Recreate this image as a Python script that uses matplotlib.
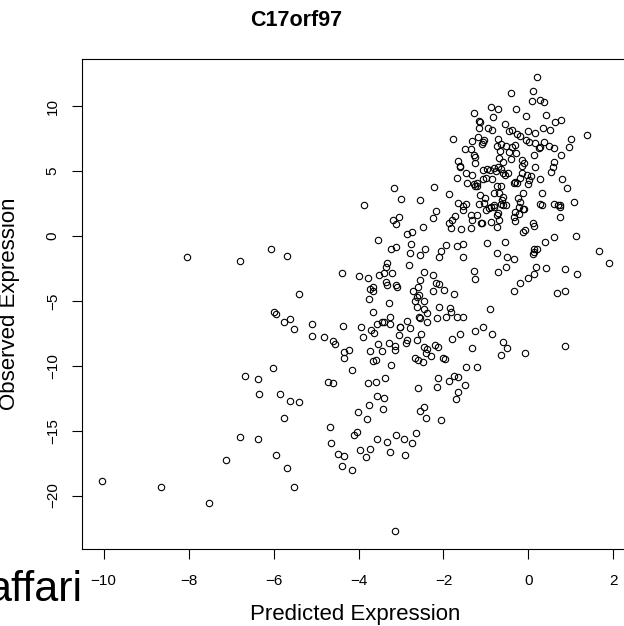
import numpy as np
import matplotlib
matplotlib.use('Agg')
import matplotlib.pyplot as plt

# predicted vs observed expression
# sparse lower-left part of the cloud
pred_sparse = [
    -8.04, -6.78, -6.68, -6.37, -6.34, -6.78, -6.37, -7.11, -10.03, -8.65,
    -7.51, -6.06, -5.68, -5.41, -4.38, -3.98, -3.78, -3.55, -3.23, -3.11,
    -2.85, -2.75, -2.76, -2.78, -2.81, -2.55, -3.52, -3.39, -3.34, -3.36,
    -3.21, -3.35, -3.32, -3.11, -3.09, -3.74, -3.65, -3.65, -3.76, -3.28,
    -3.65, -2.72, -2.67, -2.63, -2.63, -2.61, -5.98, -5.94, -5.62, -5.76,
    -5.51, -5.09, -5.09, -4.81, -4.60, -4.56, -4.36, -3.94, -3.89, -3.71,
    -3.63, -3.44, -3.40, -3.25, -3.25, -3.57, -3.03, -3.05, -2.87, -2.79,
    -2.85, -2.88, -2.62, -3.55, -3.29, -3.14, -3.14, -3.44, -3.72, -3.67,
    -3.58, -3.24, -4.34, -4.23, -4.34, -4.15, -2.67, -2.61, -6.01, -5.84,
    -5.62, -5.40, -5.76, -4.71, -4.60, -3.77, -3.58, -3.38, -3.56, -3.41,
    -3.75, -3.42, -4.01, -3.80, -2.61, -2.56, -4.67, -4.11, -4.03, -4.65,
    -4.49, -4.34, -4.40, -4.15, -3.96, -3.74, -3.82, -3.56, -3.34, -3.26,
    -3.11, -2.94, -2.74, -2.90, -2.65, -5.94, -5.68, -5.52, -3.14,
]
obs_sparse = [
    -1.65, -1.92, -10.81, -11.04, -12.18, -15.48, -15.62, -17.23, -18.85, -19.31,
    -20.56, -1.02, -1.52, -4.44, -2.87, -3.08, -3.28, -0.31, -1.02, -0.87,
    0.15, 0.33, -0.62, -1.28, -2.25, -1.46, -3.02, -2.87, -2.10, -2.41,
    -2.87, -3.52, -3.77, -3.75, -3.90, -4.10, -3.95, -4.21, -4.87, -5.13,
    -5.85, -4.28, -4.98, -4.67, -5.48, -3.90, -5.85, -6.00, -6.41, -6.62,
    -7.15, -6.82, -7.72, -7.79, -8.10, -8.33, -6.92, -7.05, -7.75, -7.23,
    -7.48, -6.64, -6.64, -6.25, -6.75, -6.82, -7.05, -7.64, -6.54, -7.13,
    -8.05, -8.25, -8.02, -8.31, -8.25, -8.46, -8.82, -8.85, -8.85, -9.64,
    -9.59, -9.95, -8.95, -8.82, -9.44, -10.31, -9.41, -9.59, -10.18, -12.18,
    -12.75, -12.77, -14.00, -11.25, -11.36, -11.33, -11.23, -10.95, -12.31, -12.52,
    -13.02, -13.31, -13.54, -14.13, -11.75, -13.48, -14.69, -15.31, -15.10, -15.95,
    -16.77, -16.92, -17.72, -18.02, -16.52, -16.38, -17.05, -15.64, -15.87, -16.67,
    -15.36, -15.67, -15.92, -16.90, -15.18, -16.87, -17.87, -19.31, -22.72,
]

# middle band
pred_mid = [
    -2.58, -2.47, -2.24, -1.98, -1.76, -0.34, 0.68, 0.86, -2.45, -2.39,
    -2.57, -2.55, -2.39, -2.16, -2.10, -1.94, -1.84, -1.82, -1.68, -1.54,
    -0.91, -3.02, -2.52, -1.80, -1.60, -1.26, -1.07, -0.86, -1.32, -0.60,
    -0.50, -0.65, -0.08, 0.86, -2.47, -2.39, -2.41, -2.30, -2.21, -2.13,
    -2.48, -2.00, -1.96, -1.47, -1.22, -2.14, -2.15, -1.75, -1.66, -1.87,
    -1.50, -1.66, -1.70, -2.47, -2.41, -2.05,
    -3.16, -3.01, -2.56, -3.87, -3.19, -3.04, -3.11, -2.48, -2.44, -2.47, -2.56,
]
obs_mid = [
    -4.56, -4.98, -4.21, -4.15, -4.48, -4.21, -4.36, -4.21, -5.62, -5.90,
    -6.25, -6.31, -6.67, -6.36, -5.48, -6.25, -5.59, -5.85, -6.23, -6.23,
    -5.62, -6.98, -7.54, -7.92, -7.56, -7.36, -7.05, -7.52, -8.62, -8.15,
    -8.64, -9.21, -9.05, -8.46, -8.56, -8.72, -9.02, -9.23, -8.38, -8.56,
    -9.72, -9.38, -9.52, -10.08, -10.08, -10.98, -11.64, -10.77, -10.90, -11.21,
    -11.46, -12.05, -12.54, -13.21, -14.02, -14.21,
    3.72, 2.85, 2.77, 2.36, 1.23, 1.44, 0.92, 0.67, -1.00, -2.77, -3.38,
]

# dense upper-right cluster
pred_dense = [
    0.20, -0.41, 0.11, 0.08, 0.28, 0.37, -0.88, -0.72, -0.29, -1.29,
    -0.84, -0.06, 0.42, -1.17, -1.14, -1.16, -0.55, 0.63, 0.76, -0.96,
    -0.86, -0.46, -0.38, -0.26, -0.01, 0.16, 0.33, 0.51, 1.37, -1.77,
    -1.32, -1.19, -1.05, -0.72, -0.21, -0.06, 0.02, 0.16, 0.37, 0.49,
    0.60, 1.00, 0.96, -1.50, -1.36, -1.09, -1.07, -0.74, -0.64, -0.52,
    -0.39, -0.31, 0.24, 0.28, -1.28, -1.27, -0.68, -0.45, -0.30, 0.12,
    0.77, -1.67, -1.62, -1.62, -1.27, -1.06, -0.98, -0.70, -0.61, -0.71,
    -0.80, -0.41, -0.16, -0.10, -0.16, 0.16, 0.60, 0.57, 0.54, -1.47,
    -1.34, -1.69, -0.90, -0.76, -0.65, -0.61, -0.55, -0.48, -1.08, -1.00,
    -0.85, -0.04, 0.06, 0.01, -0.15, -0.20, 0.28, 0.80, -1.45, -1.28,
    -1.25, -1.21, -1.20, -0.75, -0.65, -0.35, -0.31, -0.26, 0.90, -2.23,
    -1.88, -1.14, -1.02, -0.80, -0.70, -0.61, -0.63, -0.65, -0.60, -0.25,
    -0.20, -0.23, 0.32, 0.28, 0.31, 0.60, 0.69, 0.75, 0.75, 1.08,
    -1.65, -1.54, -1.47, -1.54, -1.16, -1.04, -1.00, -0.88, -0.81, -0.71,
    -0.74, -0.31, -0.23, -0.10, 0.75, -2.17, -2.24, -1.72, -1.80, -1.88,
    -1.35, -1.20, -1.12, -1.09, -1.33, -0.88, -0.69, -0.73, -1.59, -1.35,
    -1.82, -0.31, -0.34, 0.10, 0.13, -0.13, -0.09, 1.12, -0.98, -0.56,
    -2.11, -2.06, -1.94, -1.68, -1.54, -1.55, -0.74, -0.51, -0.34, 0.12,
    0.14, 0.11, 0.39, 0.59, 1.67, 1.90, -1.28, -1.26, -0.71, -0.53,
    -0.01, 0.12, 0.17, 0.42, -0.20, 0.86, 1.13, -2.25, -2.17, -2.10,
    -0.01, -0.82, -0.54, -0.13, -0.12, -0.94, 0.21,
]
obs_dense = [
    12.23, 10.98, 11.15, 10.38, 10.46, 10.28, 9.95, 9.75, 9.79, 9.48,
    9.18, 9.23, 9.31, 8.85, 8.75, 8.31, 8.62, 8.75, 8.92, 8.31,
    8.15, 8.10, 8.15, 7.85, 8.10, 7.95, 8.28, 8.15, 7.77, 7.46,
    7.33, 7.59, 7.38, 7.48, 7.69, 7.38, 7.25, 7.13, 7.21, 6.92,
    6.79, 7.46, 6.82, 6.67, 6.67, 7.10, 7.25, 6.95, 7.08, 6.92,
    6.82, 6.98, 6.75, 6.87, 6.25, 6.10, 6.54, 6.44, 6.41, 6.23,
    6.23, 5.79, 5.38, 5.28, 5.64, 5.08, 5.13, 5.98, 5.67, 5.33,
    5.21, 5.95, 5.85, 5.64, 5.38, 5.28, 5.67, 5.33, 4.90, 4.87,
    4.69, 4.44, 5.08, 4.98, 5.18, 4.82, 4.67, 4.82, 4.36, 4.44,
    4.41, 4.72, 4.59, 4.31, 4.82, 4.44, 4.36, 4.38, 4.10, 4.00,
    3.85, 4.05, 3.81, 3.85, 3.85, 4.10, 4.18, 4.05, 3.67, 3.77,
    3.21, 3.13, 2.95, 3.28, 3.33, 2.98, 2.77, 2.46, 2.36, 2.90,
    2.64, 2.25, 3.28, 2.46, 2.36, 2.48, 2.36, 2.23, 2.41, 2.64,
    2.52, 2.31, 2.46, 2.00, 2.46, 2.52, 2.00, 2.23, 2.25, 1.79,
    1.64, 1.87, 1.69, 2.08, 1.44, 1.95, 1.36, 1.54, 1.21, 0.98,
    1.62, 1.64, 0.98, 1.02, 1.23, 1.10, 1.23, 0.72, 0.54, 0.64,
    0.64, 1.13, 1.48, 1.02, 0.79, 0.33, 0.46, 0.00, -0.52, -0.46,
    -1.59, -1.13, -0.67, -0.77, -0.62, -1.59, -1.33, -1.59, -1.79, -1.02,
    -1.21, -1.38, -0.44, -0.05, -1.15, -2.05, -2.67, -3.31, -2.79, -2.41,
    -3.25, -2.95, -2.41, -2.48, -3.64, -2.54, -2.90, -3.00, -3.59, -3.69,
    4.00, 2.38, 2.36, 3.28, 2.05, 2.13, -1.02,
]

x_ticks = [-10, -8, -6, -4, -2, 0, 2]
y_ticks = [-20, -15, -10, -5, 0, 5, 10]

title = 'C17orf97'
x_label = 'Predicted Expression'
y_label = 'Observed Expression'
stray_text = 'affari'


def r_range(v):
    # R pads the data range by 4% on each side
    lo, hi = np.min(v), np.max(v)
    pad = 0.04 * (hi - lo)
    return lo - pad, hi + pad


if __name__ == '__main__':
    plt.rcParams['font.family'] = ['Liberation Sans', 'DejaVu Sans']

    pred = np.array(pred_sparse + pred_mid + pred_dense)
    obs = np.array(obs_sparse + obs_mid + obs_dense)

    W, H = 624, 626
    fig = plt.figure(figsize=(W / 100, H / 100), dpi=100)
    ax = fig.add_axes([82 / W, 1 - 549 / H, (629.5 - 82) / W, (549 - 59) / H])

    ax.plot(pred, obs, 'o', ls='none', mfc='none', mec='black', ms=4.6, mew=0.8)
    ax.set_xlim(r_range(pred))
    ax.set_ylim(r_range(obs))
    ax.set_xticks(x_ticks)
    ax.set_yticks(y_ticks)

    ax.tick_params(length=7, width=0.8, labelsize=11, direction='out')
    ax.tick_params(axis='x', pad=11)
    ax.tick_params(axis='y', pad=9, labelrotation=90)
    for lab in ax.get_yticklabels():
        lab.set_va('center')
    for s in ax.spines.values():
        s.set_linewidth(0.8)

    fig.text(296 / W, 1 - 21 / H, title, ha='center', va='center',
             fontsize=15.5, fontweight='bold')
    fig.text(355 / W, 1 - 620 / H, x_label, ha='center', va='baseline', fontsize=16)
    # the y label sits partly past the left edge, as in the source picture
    fig.text(15 / W, 1 - 304 / H, y_label, rotation=90, rotation_mode='anchor',
             ha='center', va='baseline', fontsize=16)
    fig.text(82 / W, 1 - 601 / H, stray_text, ha='right', va='baseline', fontsize=31)

    fig.savefig('out.png', dpi=100)
